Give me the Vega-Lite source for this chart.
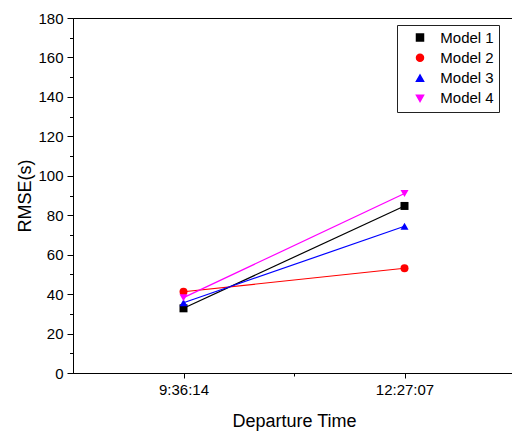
{
  "$schema": "https://vega.github.io/schema/vega-lite/v6.json",
  "autosize": "none",
  "width": 442,
  "height": 355,
  "padding": {"left": 73, "top": 18, "right": 0, "bottom": 61},
  "background": "white",
  "view": {"stroke": "black", "strokeWidth": 1},
  "config": {
    "font": "Liberation Sans",
    "axis": {
      "grid": false,
      "domainColor": "black",
      "domainWidth": 1,
      "tickColor": "black",
      "tickWidth": 1,
      "labelColor": "black",
      "labelFont": "Liberation Sans",
      "labelFontSize": 15,
      "titleColor": "black",
      "titleFont": "Liberation Sans",
      "titleFontSize": 18,
      "titleFontWeight": "normal"
    }
  },
  "data": {
    "values": [
      {"model": "Model 1", "time": "2020-01-01T09:36:14", "rmse": 32.8},
      {"model": "Model 1", "time": "2020-01-01T12:27:07", "rmse": 84.7},
      {"model": "Model 2", "time": "2020-01-01T09:36:14", "rmse": 41.2},
      {"model": "Model 2", "time": "2020-01-01T12:27:07", "rmse": 53.1},
      {"model": "Model 3", "time": "2020-01-01T09:36:14", "rmse": 35.6},
      {"model": "Model 3", "time": "2020-01-01T12:27:07", "rmse": 74.4},
      {"model": "Model 4", "time": "2020-01-01T09:36:14", "rmse": 38.2},
      {"model": "Model 4", "time": "2020-01-01T12:27:07", "rmse": 91.0}
    ]
  },
  "encoding": {
    "x": {
      "field": "time",
      "type": "temporal",
      "title": "Departure Time",
      "scale": {
        "domain": [
          {"year": 2020, "month": 1, "date": 1, "hours": 8, "minutes": 10, "seconds": 47, "milliseconds": 500},
          {"year": 2020, "month": 1, "date": 1, "hours": 13, "minutes": 52, "seconds": 33, "milliseconds": 500}
        ]
      },
      "axis": {
        "values": [
          {"year": 2020, "month": 1, "date": 1, "hours": 9, "minutes": 36, "seconds": 14},
          {"year": 2020, "month": 1, "date": 1, "hours": 11, "minutes": 1, "seconds": 40, "milliseconds": 500},
          {"year": 2020, "month": 1, "date": 1, "hours": 12, "minutes": 27, "seconds": 7}
        ],
        "labelExpr": "hours(datum.value) == 11 ? '' : timeFormat(datum.value, '%-H:%M:%S')",
        "tickSize": {"condition": {"test": "hours(datum.value) == 11", "value": 3}, "value": 5},
        "labelPadding": 4,
        "labelFlush": false,
        "labelOverlap": false,
        "titlePadding": 15
      }
    },
    "y": {
      "field": "rmse",
      "type": "quantitative",
      "title": "RMSE(s)",
      "scale": {"domain": [0, 180], "nice": false},
      "axis": {
        "values": [0, 10, 20, 30, 40, 50, 60, 70, 80, 90, 100, 110, 120, 130, 140, 150, 160, 170, 180],
        "labelExpr": "datum.value % 20 == 0 ? datum.label : ''",
        "tickSize": {"condition": {"test": "datum.value % 20 != 0", "value": 3.5}, "value": 6},
        "labelPadding": 4,
        "labelFlush": false,
        "labelOverlap": false,
        "titlePadding": 3
      }
    },
    "color": {
      "field": "model",
      "type": "nominal",
      "scale": {
        "domain": ["Model 1", "Model 2", "Model 3", "Model 4"],
        "range": ["#000000", "#ff0000", "#0000ff", "#ff00ff"]
      },
      "legend": {
        "title": null,
        "orient": "none",
        "legendX": 324,
        "legendY": 7,
        "padding": 5,
        "strokeColor": "#222222",
        "fillColor": "white",
        "labelFont": "Liberation Sans",
        "labelFontSize": 15,
        "labelColor": "black",
        "labelLimit": 200,
        "symbolSize": 49,
        "symbolOffset": 10.5,
        "labelOffset": 12.8,
        "rowPadding": 4.3
      }
    }
  },
  "layer": [
    {
      "mark": {"type": "line", "strokeWidth": 1.2}
    },
    {
      "mark": {"type": "point", "filled": true, "size": 64, "opacity": 1},
      "encoding": {
        "shape": {
          "field": "model",
          "type": "nominal",
          "scale": {
            "domain": ["Model 1", "Model 2", "Model 3", "Model 4"],
            "range": ["square", "circle", "triangle-up", "triangle-down"]
          },
          "legend": null
        }
      }
    }
  ]
}
